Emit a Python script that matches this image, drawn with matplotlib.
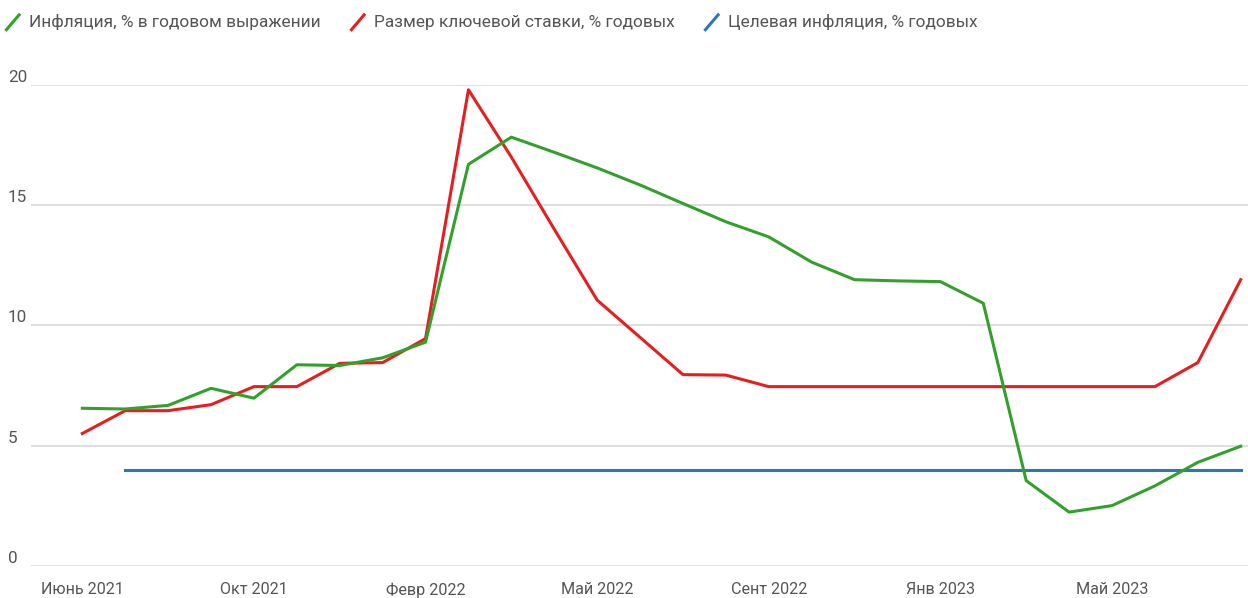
import matplotlib
matplotlib.use("Agg")
import matplotlib.pyplot as plt
from matplotlib.legend_handler import HandlerBase
from matplotlib.lines import Line2D
import numpy as np

plt.rcParams["font.family"] = ["Roboto", "DejaVu Sans"]

# monthly points, Jun 2021 .. Aug 2023
inflation = [6.55, 6.52, 6.67, 7.38, 6.97, 8.36, 8.33, 8.65, 9.3, 16.7,
             17.83, 17.2, 16.55, 15.84, 15.07, 14.31, 13.68, 12.63, 11.9, 11.85,
             11.82, 10.92, 3.54, 2.23, 2.5, 3.32, 4.3, 4.97]
key_rate = [5.5, 6.45, 6.45, 6.7, 7.45, 7.45, 8.42, 8.45, 9.45, 19.8,
            17.0, 14.0, 11.05, 9.5, 7.95, 7.93, 7.45, 7.45, 7.45, 7.45,
            7.45, 7.45, 7.45, 7.45, 7.45, 7.45, 8.45, 11.9]
target = [np.nan, 4, 4, 4, 4, 4, 4, 4, 4, 4,
          4, 4, 4, 4, 4, 4, 4, 4, 4, 4,
          4, 4, 4, 4, 4, 4, 4, 4]

tick_pos = [0, 4, 8, 12, 16, 20, 24]
tick_labels = ["Июнь 2021", "Окт 2021", "Февр 2022", "Май 2022",
               "Сент 2022", "Янв 2023", "Май 2023"]
y_ticks = [0, 5, 10, 15, 20]

GREEN = "#33a02c"
RED = "#e3201f"
BLUE = "#2a78b8"
TEXT = "#555555"


class SlashHandler(HandlerBase):
    # legend key drawn as a short diagonal stroke
    def create_artists(self, legend, orig_handle, xdescent, ydescent,
                       width, height, fontsize, trans):
        x0, y0 = -xdescent, -ydescent
        ln = Line2D([x0, x0 + width], [y0 - 0.2 * height, y0 + 1.05 * height],
                    color=orig_handle.get_color(), lw=orig_handle.get_linewidth(),
                    solid_capstyle="butt", transform=trans)
        return [ln]


fig = plt.figure(figsize=(12.48, 5.98), dpi=100)
ax = fig.add_axes([31 / 1248, (598 - 565.7) / 598, 1217 / 1248, 480.7 / 598])

x = np.arange(len(inflation))
lw = 2.2
h_blue, = ax.plot(x, target, color=BLUE, lw=lw, zorder=3, clip_on=False,
                  label="Целевая инфляция, % годовых")
h_red, = ax.plot(x, key_rate, color=RED, lw=lw, zorder=4, clip_on=False,
                 label="Размер ключевой ставки, % годовых")
h_green, = ax.plot(x, inflation, color=GREEN, lw=lw, zorder=5, clip_on=False,
                   label="Инфляция, % в годовом выражении")

ax.set_xlim(-1.196, 27.17)
ax.set_ylim(0, 20)

ax.set_yticks(y_ticks)
ax.set_yticklabels([str(v) for v in y_ticks])
ax.tick_params(axis="y", length=0, pad=16.6, labelsize=12.3, labelcolor=TEXT)
for lbl in ax.get_yticklabels():
    lbl.set_horizontalalignment("left")
    lbl.set_verticalalignment("bottom")

ax.set_xticks(tick_pos)
ax.set_xticklabels(tick_labels)
ax.tick_params(axis="x", length=0, pad=12, labelsize=11.6, labelcolor=TEXT)

ax.grid(axis="y", color="#dcdcdc", lw=1.3)
ax.set_axisbelow(True)
for s in ax.spines.values():
    s.set_visible(False)

fig.legend(handles=[h_green, h_red, h_blue],
           handler_map={Line2D: SlashHandler()},
           loc="upper left", bbox_to_anchor=(0.0016, 0.982), ncol=3,
           frameon=False, fontsize=12.4, labelcolor=TEXT,
           handlelength=0.85, handleheight=0.85, handletextpad=0.5,
           columnspacing=1.75, borderaxespad=0.0, borderpad=0.2)

fig.savefig("out.png", dpi=100, facecolor="white")
